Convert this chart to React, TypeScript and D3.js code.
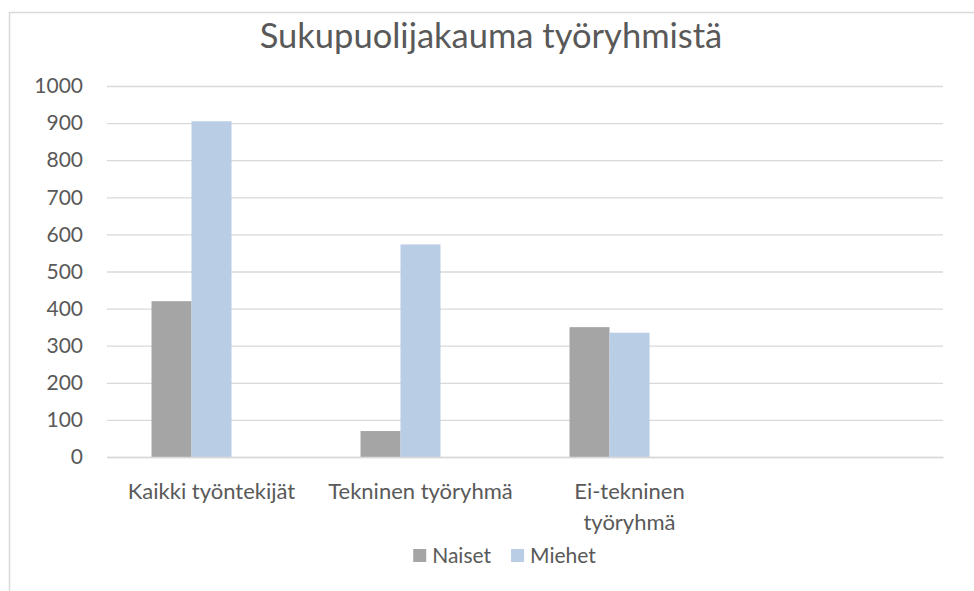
import { useEffect, useRef } from 'react'
import * as d3 from 'd3'

const title = 'Sukupuolijakauma työryhmistä'
const categories = ['Kaikki työntekijät', 'Tekninen työryhmä', 'Ei-tekninen työryhmä', '']
const seriesNames = ['Naiset', 'Miehet']
const naiset = [420, 70, 350]
const miehet = [905, 573, 335]
const yTicks = [0, 100, 200, 300, 400, 500, 600, 700, 800, 900, 1000]

const colors: Record<string, string> = { Naiset: '#A5A5A5', Miehet: '#B9CDE5' }
const W = 974
const H = 591
const plot = { left: 107, right: 943, top: 86, bottom: 457 }
const font = 'Lato, Carlito, Calibri, sans-serif'
const textColor = '#595959'
const gridColor = '#D9D9D9'

const App = () => {
  const svgRef = useRef<SVGSVGElement | null>(null)

  useEffect(() => {
    if (!svgRef.current) return
    const svg = d3.select(svgRef.current)
    svg.selectAll('*').remove()

    // chart frame
    svg.append('rect')
      .attr('x', 0).attr('y', 0).attr('width', W).attr('height', H)
      .attr('fill', '#fff')
    svg.append('rect')
      .attr('x', 9.5).attr('y', 12.5).attr('width', 1000).attr('height', 1000)
      .attr('fill', 'none')
      .attr('stroke', gridColor)
      .attr('stroke-width', 1.5)

    svg.append('text')
      .attr('x', 491)
      .attr('y', 48)
      .attr('text-anchor', 'middle')
      .attr('fill', textColor)
      .style('font-family', font)
      .style('font-size', '34.5px')
      .text(title)

    const y = d3.scaleLinear().domain([0, 1000]).range([plot.bottom, plot.top])

    const x0 = d3.scaleBand<string>()
      .domain(categories.map((c, i) => c || `_${i}`))
      .range([plot.left, plot.right])
      .paddingInner(0.426)
      .paddingOuter(0.213)

    // third slot stays empty, like the hidden series in the original sheet
    const x1 = d3.scaleBand<string>()
      .domain([...seriesNames, '_empty'])
      .range([0, x0.bandwidth()])

    // grid lines
    const yAxis = svg.append('g')
      .attr('transform', `translate(${plot.left},0)`)
      .call(d3.axisLeft(y).tickValues(yTicks).tickSize(-(plot.right - plot.left)).tickPadding(24).tickFormat(d3.format('d')))
    yAxis.select('.domain').remove()
    yAxis.selectAll('.tick line').attr('stroke', gridColor).attr('stroke-width', 1.3)
    yAxis.selectAll('.tick text')
      .attr('fill', textColor)
      .style('font-family', font)
      .style('font-size', '21px')

    const rows = categories.slice(0, naiset.length).map((c, i) => ({
      key: c,
      values: [
        { name: 'Naiset', value: naiset[i] },
        { name: 'Miehet', value: miehet[i] }
      ]
    }))

    const groups = svg.append('g')
      .selectAll('g')
      .data(rows)
      .enter()
      .append('g')
      .attr('transform', d => `translate(${x0(d.key)},0)`)

    groups.selectAll('rect')
      .data(d => d.values)
      .enter()
      .append('rect')
      .attr('x', d => x1(d.name)!)
      .attr('y', d => y(d.value))
      .attr('width', x1.bandwidth())
      .attr('height', d => y(0) - y(d.value))
      .attr('fill', d => colors[d.name])

    // category axis
    const xAxis = svg.append('g')
      .attr('transform', `translate(0,${plot.bottom})`)
      .call(d3.axisBottom(x0).tickSize(0).tickPadding(0).tickFormat(() => ''))
    xAxis.select('.domain').attr('stroke', gridColor).attr('stroke-width', 1.3)

    categories.forEach(c => {
      if (!c) return
      const cx = x0(c)! + x0.bandwidth() / 2
      const t = svg.append('text')
        .attr('x', cx)
        .attr('y', 499)
        .attr('text-anchor', 'middle')
        .attr('fill', textColor)
        .style('font-family', font)
        .style('font-size', '22px')
        .text(c)
      const len = (t.node() as SVGTextElement).getComputedTextLength()
      if (len > 195) {
        const words = c.split(' ')
        t.text(null)
        words.forEach((w, j) => {
          t.append('tspan').attr('x', cx).attr('dy', j === 0 ? 0 : 31).text(w)
        })
      }
    })

    // legend
    const legend = svg.append('g')
    let lx = 0
    seriesNames.forEach(name => {
      legend.append('rect')
        .attr('x', lx).attr('y', 549).attr('width', 13).attr('height', 13)
        .attr('fill', colors[name])
      const t = legend.append('text')
        .attr('x', lx + 19)
        .attr('y', 563)
        .attr('fill', textColor)
        .style('font-family', font)
        .style('font-size', '21px')
        .text(name)
      lx += 19 + (t.node() as SVGTextElement).getComputedTextLength() + 20
    })
    legend.attr('transform', `translate(${504.5 - (lx - 20) / 2},0)`)
  }, [])

  return (
    <svg ref={svgRef} width={W} height={H} style={{ position: 'absolute', left: 0, top: 0 }} />
  )
}

export default App
